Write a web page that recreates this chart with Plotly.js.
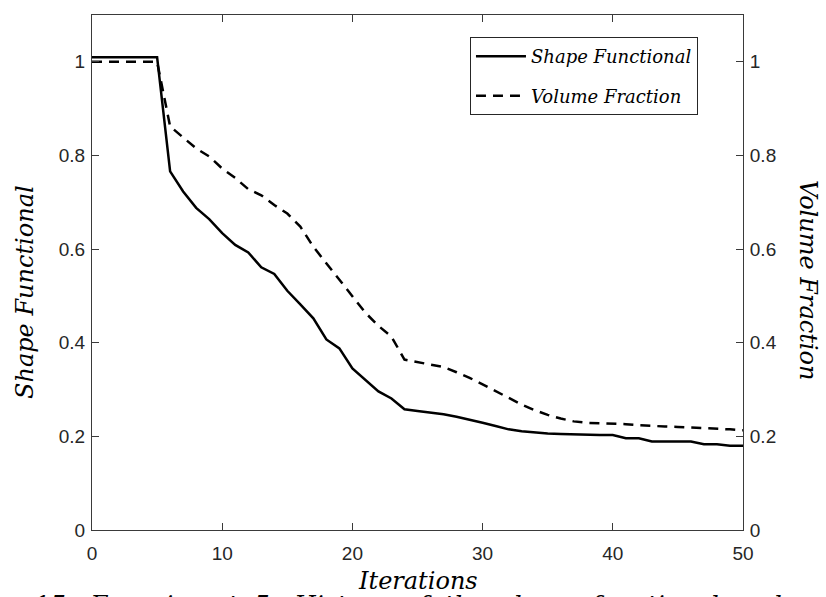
<!DOCTYPE html>
<html>
<head>
<meta charset="utf-8">
<script src="https://cdn.plot.ly/plotly-3.0.1.min.js"></script>
<style>html,body{margin:0;padding:0;background:#fff;}#chart{width:826px;height:597px;}</style>
</head>
<body>
<div id="chart"></div>
<script>
const iterations = [0,1,2,3,4,5,6,7,8,9,10,11,12,13,14,15,16,17,18,19,20,21,22,23,24,25,26,27,28,29,30,31,32,33,34,35,36,37,38,39,40,41,42,43,44,45,46,47,48,49,50];
const shapeFunctional = [1.01,1.01,1.01,1.01,1.01,1.01,0.766,0.723,0.688,0.664,0.634,0.609,0.593,0.561,0.547,0.511,0.482,0.452,0.407,0.388,0.345,0.321,0.296,0.281,0.258,0.254,0.251,0.247,0.242,0.236,0.229,0.222,0.215,0.211,0.208,0.206,0.205,0.204,0.203,0.203,0.203,0.196,0.196,0.189,0.189,0.189,0.189,0.183,0.183,0.18,0.18];
const volumeFraction = [1.0,1.0,1.0,1.0,1.0,1.0,0.862,0.838,0.815,0.798,0.772,0.752,0.728,0.715,0.694,0.676,0.648,0.605,0.570,0.533,0.500,0.464,0.436,0.413,0.364,0.359,0.354,0.348,0.337,0.325,0.311,0.297,0.283,0.268,0.256,0.246,0.238,0.232,0.229,0.228,0.228,0.226,0.224,0.222,0.221,0.220,0.219,0.218,0.216,0.215,0.213];
const xTicks = [0,10,20,30,40,50];
const yTicks = [0,0.2,0.4,0.6,0.8,1];
const yTickLabels = ['0','0.2','0.4','0.6','0.8','1'];

const axisColor = '#3a3a3a';
const tickFont = {family: 'Liberation Sans, Arial, sans-serif', size: 19, color: '#262626'};
const serifIt = 'DejaVu Serif, serif';

const traces = [
  {x: iterations, y: shapeFunctional, type: 'scatter', mode: 'lines', name: '<i>Shape Functional</i>',
   line: {color: '#000', width: 2.5}, yaxis: 'y', legendgroup: 'a'},
  {x: iterations, y: volumeFraction, type: 'scatter', mode: 'lines', name: '<i>Volume Fraction</i>',
   line: {color: '#000', width: 2.5, dash: '10px,7px'}, yaxis: 'y2', legendgroup: 'b'}
];

const layout = {
  width: 826, height: 597,
  margin: {l: 92, r: 83, t: 15, b: 67},
  paper_bgcolor: '#fff', plot_bgcolor: '#fff',
  showlegend: true,
  legend: {x: 0.5806, xanchor: 'left', y: 0.957, yanchor: 'top',
    bordercolor: '#262626', borderwidth: 1, bgcolor: '#fff',
    font: {family: serifIt, size: 18, color: '#000'},
    traceorder: 'grouped', tracegroupgap: 13, itemwidth: 50},
  xaxis: {range: [0, 50], tickvals: xTicks, ticktext: xTicks.map(String), ticks: 'inside', ticklen: 7,
    tickcolor: axisColor, showline: true, linecolor: axisColor, linewidth: 1, mirror: 'ticks',
    showgrid: false, zeroline: false, tickfont: tickFont, automargin: false, ticklabelstandoff: 6},
  yaxis: {range: [0, 1.1], tickvals: yTicks, ticktext: yTickLabels, ticks: 'inside', ticklen: 7,
    tickcolor: axisColor, showline: true, linecolor: axisColor, linewidth: 1,
    showgrid: false, zeroline: false, tickfont: tickFont, automargin: false, ticklabelstandoff: 2},
  yaxis2: {range: [0, 1.1], tickvals: yTicks, ticktext: yTickLabels, ticks: 'inside', ticklen: 7,
    tickcolor: axisColor, showline: true, linecolor: axisColor, linewidth: 1, overlaying: 'y', side: 'right',
    showgrid: false, zeroline: false, tickfont: tickFont, automargin: false, ticklabelstandoff: 2},
  annotations: [
    {text: '<i>Shape Functional</i>', xref: 'paper', yref: 'paper', x: (25-92)/651, y: (530-292)/515,
     xanchor: 'center', yanchor: 'middle', textangle: -90, showarrow: false,
     font: {family: serifIt, size: 24, color: '#000'}},
    {text: '<i>Volume Fraction</i>', xref: 'paper', yref: 'paper', x: (808-92)/651, y: (530-280)/515,
     xanchor: 'center', yanchor: 'middle', textangle: 90, showarrow: false,
     font: {family: serifIt, size: 24, color: '#000'}},
    {text: '<i>Iterations</i>', xref: 'paper', yref: 'paper', x: 0.5, y: (530-581)/515,
     xanchor: 'center', yanchor: 'middle', showarrow: false,
     font: {family: serifIt, size: 24, color: '#000'}},
    {text: '<i>15:  Experiment  5:  History  of  the  shape  functional  and  volume</i>', xref: 'paper', yref: 'paper',
     x: (32-92)/651, y: (530-604)/515, xanchor: 'left', yanchor: 'middle', showarrow: false,
     font: {family: serifIt, size: 25, color: '#000'}}
  ]
};

Plotly.newPlot('chart', traces, layout, {displayModeBar: false, staticPlot: true});
</script>
</body>
</html>
